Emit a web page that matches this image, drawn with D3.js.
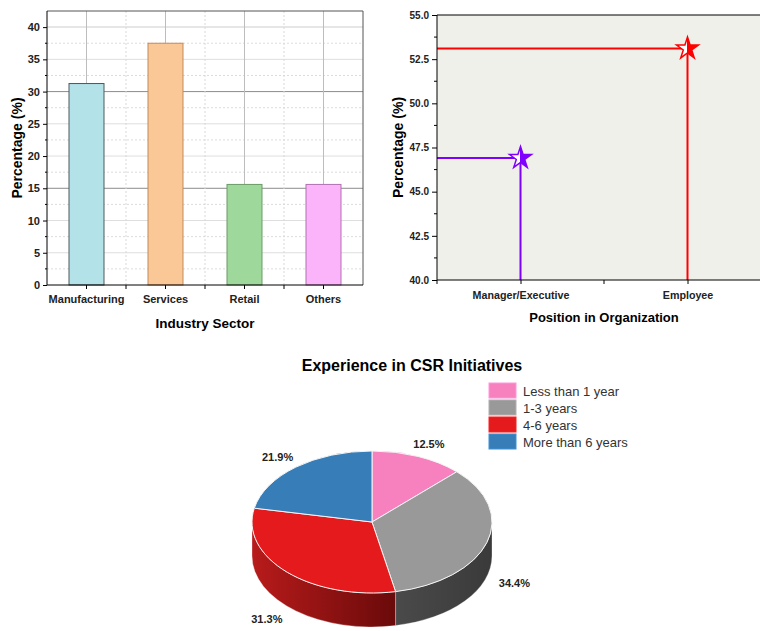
<!DOCTYPE html>
<html>
<head>
<meta charset="utf-8">
<script src="https://cdn.jsdelivr.net/npm/d3@7"></script>
<style>
  body { margin: 0; background: #fff; }
  svg { display: block; font-family: "Liberation Sans", Arial, sans-serif; }
</style>
</head>
<body>
<svg id="chart" width="760" height="631"></svg>
<script>
// ---- data ----
var sectors = ["Manufacturing", "Services", "Retail", "Others"];
var sectorPct = [31.25, 37.5, 15.6, 15.6];
var sectorFill = ["#b3e2e8", "#f9c896", "#9ed89a", "#fbb4f9"];
var sectorStroke = ["#4a5a5c", "#c48a5a", "#6a9a66", "#b070b0"];

var positions = ["Manager/Executive", "Employee"];
var positionPct = [46.9, 53.1];
var positionColor = ["#8000ff", "#ff0000"];

var expLabels = ["Less than 1 year", "1-3 years", "4-6 years", "More than 6 years"];
var expPct = [12.5, 34.4, 31.3, 21.9];
var expColor = ["#f781bf", "#999999", "#e41a1c", "#377eb8"];

var svg = d3.select("#chart");
var defs = svg.append("defs");

// ================= bar chart =================
var b = { left: 47, right: 363, top: 11, bottom: 285 };
var bx = d3.scaleBand().domain(sectors).range([b.left, b.right]).paddingInner(0.557).paddingOuter(0.2785);
var by = d3.scaleLinear().domain([0, 42.5]).range([b.bottom, b.top]);
var bar = svg.append("g");

// minor horizontal grid (dotted)
bar.selectAll(".hmin").data(d3.range(2.5, 42.5, 5)).enter().append("line")
  .attr("x1", b.left).attr("x2", b.right)
  .attr("y1", d => by(d)).attr("y2", d => by(d))
  .attr("stroke", "#dcdcdc").attr("stroke-dasharray", "2,2");
// major horizontal grid
bar.selectAll(".hmaj").data(d3.range(5, 41, 5)).enter().append("line")
  .attr("x1", b.left).attr("x2", b.right)
  .attr("y1", d => by(d)).attr("y2", d => by(d))
  .attr("stroke", d => (d === 15 || d === 30) ? "#8c8c8c" : "#dedede")
  .attr("stroke-width", d => d === 40 ? 1.5 : 1);
// vertical grid: solid at category centres, dotted between
var step = bx.step();
bar.selectAll(".vmaj").data(sectors).enter().append("line")
  .attr("x1", d => bx(d) + bx.bandwidth() / 2).attr("x2", d => bx(d) + bx.bandwidth() / 2)
  .attr("y1", b.top).attr("y2", b.bottom)
  .attr("stroke", "#bdbdbd");
bar.selectAll(".vmin").data(sectors.slice(1)).enter().append("line")
  .attr("x1", d => bx(d) + bx.bandwidth() / 2 - step / 2).attr("x2", d => bx(d) + bx.bandwidth() / 2 - step / 2)
  .attr("y1", b.top).attr("y2", b.bottom)
  .attr("stroke", "#d8d8d8").attr("stroke-dasharray", "2,2");

// frame top/right
bar.append("path")
  .attr("d", `M${b.left},${b.top}H${b.right}V${b.bottom}`)
  .attr("fill", "none").attr("stroke", "#555");

// bars
bar.selectAll("rect.bar").data(sectors).enter().append("rect")
  .attr("x", d => bx(d))
  .attr("y", (d, i) => by(sectorPct[i]))
  .attr("width", bx.bandwidth())
  .attr("height", (d, i) => b.bottom - by(sectorPct[i]))
  .attr("fill", (d, i) => sectorFill[i])
  .attr("stroke", (d, i) => sectorStroke[i]);

// y axis
var byAxis = bar.append("g").attr("transform", `translate(${b.left},0)`)
  .call(d3.axisLeft(by).tickValues(d3.range(0, 41, 5)).tickSize(4).tickPadding(3));
byAxis.select(".domain").attr("stroke", "#000").attr("d", `M0,${b.bottom}V${b.top}`);
byAxis.selectAll("text").attr("font-size", 11).attr("font-weight", "bold").attr("fill", "#222")
  .attr("font-family", "Liberation Sans, Arial, sans-serif");
bar.selectAll(".ymin").data(d3.range(2.5, 42.5, 5)).enter().append("line")
  .attr("x1", b.left - 2).attr("x2", b.left)
  .attr("y1", d => by(d)).attr("y2", d => by(d)).attr("stroke", "#000");

// x axis
var bxAxis = bar.append("g").attr("transform", `translate(0,${b.bottom})`)
  .call(d3.axisBottom(bx).tickSize(4).tickPadding(6));
bxAxis.select(".domain").attr("stroke", "#000").attr("d", `M${b.left},0H${b.right}`);
bxAxis.selectAll("text").attr("font-size", 11).attr("font-weight", "bold").attr("fill", "#222")
  .attr("font-family", "Liberation Sans, Arial, sans-serif");
bar.selectAll(".xmin").data(sectors.slice(1)).enter().append("line")
  .attr("x1", d => bx(d) + bx.bandwidth() / 2 - step / 2).attr("x2", d => bx(d) + bx.bandwidth() / 2 - step / 2)
  .attr("y1", b.bottom).attr("y2", b.bottom + 4).attr("stroke", "#000");

bar.append("text")
  .attr("transform", `translate(22,${(b.top + b.bottom) / 2}) rotate(-90)`)
  .attr("text-anchor", "middle").attr("font-size", 14).attr("font-weight", "bold")
  .text("Percentage (%)");
bar.append("text")
  .attr("x", (b.left + b.right) / 2).attr("y", 328)
  .attr("text-anchor", "middle").attr("font-size", 13.5).attr("font-weight", "bold")
  .text("Industry Sector");

// ================= drop-line chart =================
var p = { left: 437, right: 771, top: 15, bottom: 280 };
var px = d3.scalePoint().domain(positions).range([p.left, p.right]).padding(0.5);
var py = d3.scaleLinear().domain([40, 55]).range([p.bottom, p.top]);
var pos = svg.append("g");

pos.append("rect")
  .attr("x", p.left).attr("y", p.top)
  .attr("width", p.right - p.left).attr("height", p.bottom - p.top)
  .attr("fill", "#f0f0eb");
pos.append("line").attr("x1", p.left).attr("x2", p.right).attr("y1", p.top).attr("y2", p.top)
  .attr("stroke", "#000");

// drop lines
pos.selectAll(".hdrop").data(positions).enter().append("line")
  .attr("x1", p.left).attr("x2", d => px(d))
  .attr("y1", (d, i) => py(positionPct[i])).attr("y2", (d, i) => py(positionPct[i]))
  .attr("stroke", (d, i) => positionColor[i]).attr("stroke-width", 2);
pos.selectAll(".vdrop").data(positions).enter().append("line")
  .attr("x1", d => px(d)).attr("x2", d => px(d))
  .attr("y1", (d, i) => py(positionPct[i])).attr("y2", p.bottom)
  .attr("stroke", (d, i) => positionColor[i]).attr("stroke-width", 2);

// half-filled stars
positionColor.forEach(function(c, i) {
  var g = defs.append("linearGradient").attr("id", "half" + i)
    .attr("x1", 0).attr("x2", 1).attr("y1", 0).attr("y2", 0);
  g.append("stop").attr("offset", 0.5).attr("stop-color", "#fff");
  g.append("stop").attr("offset", 0.5).attr("stop-color", c);
});
var star = d3.symbol().type(d3.symbolStar).size(150);
pos.selectAll(".star").data(positions).enter().append("path")
  .attr("d", star)
  .attr("transform", (d, i) => `translate(${px(d)},${py(positionPct[i])})`)
  .attr("fill", (d, i) => `url(#half${i})`)
  .attr("stroke", (d, i) => positionColor[i]).attr("stroke-width", 1.5);

// y axis
var pyAxis = pos.append("g").attr("transform", `translate(${p.left},0)`)
  .call(d3.axisLeft(py).tickValues(d3.range(40, 55.1, 2.5)).tickFormat(d3.format(".1f")).tickSize(5).tickPadding(3));
pyAxis.select(".domain").attr("stroke", "#000").attr("d", `M0,${p.bottom}V${p.top}`);
pyAxis.selectAll("text").attr("font-size", 10).attr("font-weight", "bold").attr("fill", "#222")
  .attr("font-family", "Liberation Sans, Arial, sans-serif");
pos.selectAll(".pymin").data(d3.range(41.25, 55, 2.5)).enter().append("line")
  .attr("x1", p.left - 3).attr("x2", p.left)
  .attr("y1", d => py(d)).attr("y2", d => py(d)).attr("stroke", "#000");

// x axis
var pxAxis = pos.append("g").attr("transform", `translate(0,${p.bottom})`)
  .call(d3.axisBottom(px).tickSize(4).tickPadding(7));
pxAxis.select(".domain").attr("stroke", "#000").attr("d", `M${p.left},0H${p.right}`);
pxAxis.selectAll("text").attr("font-size", 10.7).attr("font-weight", "bold").attr("fill", "#222")
  .attr("font-family", "Liberation Sans, Arial, sans-serif");
pos.selectAll(".pxmin").data([p.left, (p.left + p.right) / 2]).enter().append("line")
  .attr("x1", d => d).attr("x2", d => d)
  .attr("y1", p.bottom).attr("y2", p.bottom + 4).attr("stroke", "#000");

pos.append("text")
  .attr("transform", `translate(403,${(p.top + p.bottom) / 2}) rotate(-90)`)
  .attr("text-anchor", "middle").attr("font-size", 14).attr("font-weight", "bold")
  .text("Percentage (%)");
pos.append("text")
  .attr("x", (p.left + p.right) / 2).attr("y", 322)
  .attr("text-anchor", "middle").attr("font-size", 13).attr("font-weight", "bold")
  .text("Position in Organization");

// ================= 3D pie =================
var pie = svg.append("g");
var cx = 372, cy = 522, rx = 120, ry = 71, depth = 34;

pie.append("text")
  .attr("x", 412).attr("y", 371)
  .attr("text-anchor", "middle").attr("font-size", 16).attr("font-weight", "bold")
  .text("Experience in CSR Initiatives");

var arcs = d3.pie().sort(null).value(d => d)(expPct);
function pt(a, dy) { return [cx + rx * Math.sin(a), cy - ry * Math.cos(a) + (dy || 0)]; }

// side gradients
var sideStops = {
  1: ["#4a4a4a", "#3a3a3a"],
  2: ["#b81b1b", "#6a0a0a"]
};

// sides (front half only)
arcs.forEach(function(a, i) {
  var s = Math.max(a.startAngle, Math.PI / 2), e = Math.min(a.endAngle, 3 * Math.PI / 2);
  if (e <= s) return;
  var p0 = pt(s), p1 = pt(e);
  var x0 = Math.min(p0[0], p1[0]), x1 = Math.max(p0[0], p1[0]);
  var cols = sideStops[i] || [d3.color(expColor[i]).darker(0.6), d3.color(expColor[i]).darker(1.4)];
  var g = defs.append("linearGradient").attr("id", "side" + i)
    .attr("gradientUnits", "userSpaceOnUse")
    .attr("x1", x0).attr("x2", x1).attr("y1", 0).attr("y2", 0);
  g.append("stop").attr("offset", 0).attr("stop-color", cols[0]);
  g.append("stop").attr("offset", 1).attr("stop-color", cols[1]);
  var large = (e - s) > Math.PI ? 1 : 0;
  var b0 = pt(e, depth), b1 = pt(s, depth);
  pie.append("path")
    .attr("d", `M${p0}A${rx},${ry} 0 ${large} 1 ${p1}L${b0}A${rx},${ry} 0 ${large} 0 ${b1}Z`)
    .attr("fill", `url(#side${i})`)
    .attr("stroke", "#fff").attr("stroke-width", 0.6).attr("stroke-opacity", 0.5);
});

// top faces
pie.selectAll(".top").data(arcs).enter().append("path")
  .attr("d", function(a) {
    var p0 = pt(a.startAngle), p1 = pt(a.endAngle);
    var large = (a.endAngle - a.startAngle) > Math.PI ? 1 : 0;
    return `M${cx},${cy}L${p0}A${rx},${ry} 0 ${large} 1 ${p1}Z`;
  })
  .attr("fill", (a, i) => expColor[i])
  .attr("stroke", "#f4f4f4").attr("stroke-width", 1);

// percent labels
pie.selectAll(".plab").data(arcs).enter().append("text")
  .attr("x", a => cx + rx * 1.24 * Math.sin((a.startAngle + a.endAngle) / 2))
  .attr("y", function(a) {
    var m = (a.startAngle + a.endAngle) / 2;
    var y = cy - ry * 1.22 * Math.cos(m);
    return (-Math.cos(m) > 0 ? y + depth + 2 : y + 2) + 4;
  })
  .attr("text-anchor", "middle").attr("font-size", 11).attr("font-weight", "bold").attr("fill", "#222")
  .text((a, i) => expPct[i].toFixed(1) + "%");

// legend
var leg = pie.append("g").attr("transform", "translate(489,383)");
leg.selectAll("rect").data(expLabels).enter().append("rect")
  .attr("x", 0).attr("y", (d, i) => i * 17)
  .attr("width", 27).attr("height", 15)
  .attr("fill", (d, i) => expColor[i])
  .attr("stroke", (d, i) => d3.color(expColor[i]).brighter(0.4)).attr("stroke-width", 1);
leg.selectAll("text").data(expLabels).enter().append("text")
  .attr("x", 34).attr("y", (d, i) => i * 17 + 12.5)
  .attr("font-size", 13).attr("fill", "#333")
  .text(d => d);
</script>
</body>
</html>
